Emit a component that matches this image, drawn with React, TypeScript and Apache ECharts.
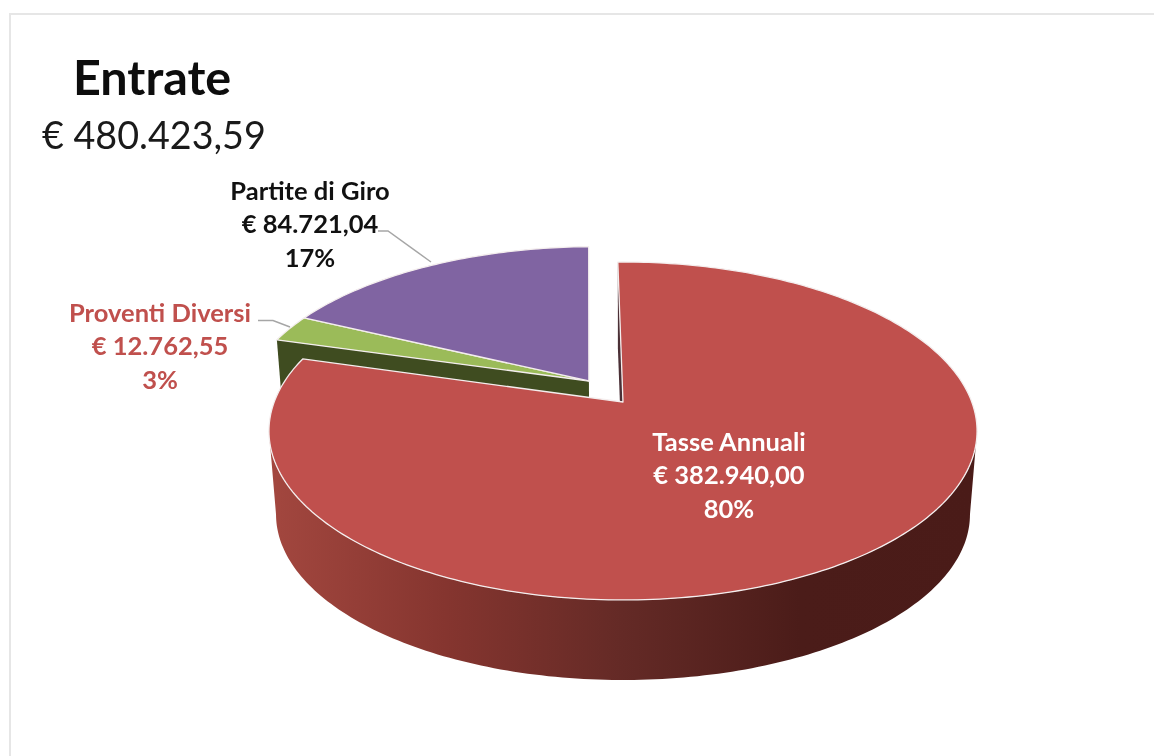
import React, { useEffect, useRef } from "react";
import * as echarts from "echarts";

const TITLE = "Entrate";
const TOTAL_LABEL = "€ 480.423,59";
const categories = ["Tasse Annuali", "Proventi Diversi", "Partite di Giro"];
const values = [382940.0, 12762.55, 84721.04];
const amountLabels = ["€ 382.940,00", "€ 12.762,55", "€ 84.721,04"];
const percentLabels = ["80%", "3%", "17%"];

const topColors = ["#c0504d", "#9bbb59", "#8064a2"];
const labelColors = ["#ffffff", "#c0504d", "#111111"];
const labelAnchors = [[729, 424], [160, 295], [310, 173]];
const leaders = [null, [[258, 320.5], [273, 320.5], [290, 327]], [[378, 231], [388, 231], [431, 262]]];
const explodeOffsets = [[0, 0], [-0.1, -0.131], [-0.1, -0.131]];

const CX = 623, CY = 402, A = 348.8, B = 164, K = 0.1716;
const DEPTH = 84, BOTTOM_SCALE = 0.98, START_DEG = -1;
const FONT = "Lato, Carlito, Calibri, sans-serif";

function project(u: number, v: number, lower: boolean) {
  const w = 1 / (1 - K * v);
  const s = lower ? BOTTOM_SCALE : 1;
  return [CX + s * A * u * w, CY + (lower ? DEPTH : 0) + s * B * v * w];
}
function rimPoint(deg: number, off: number[], lower: boolean) {
  const r = (deg * Math.PI) / 180;
  return project(Math.sin(r) + off[0], -Math.cos(r) + off[1], lower);
}
function arc(from: number, to: number, off: number[], lower: boolean) {
  const n = Math.max(2, Math.ceil(Math.abs(to - from)));
  const pts: number[][] = [];
  for (let i = 0; i <= n; i++) pts.push(rimPoint(from + ((to - from) * i) / n, off, lower));
  return pts;
}

const total = values.reduce((a, b) => a + b, 0);
function sweepOf(i: number) {
  const before = values.slice(0, i).reduce((a, b) => a + b, 0);
  return [START_DEG + (before / total) * 360, START_DEG + ((before + values[i]) / total) * 360];
}

function renderSlice(params: any, api: any) {
  const i = params.dataIndex;
  const [start, end] = sweepOf(i);
  void api.value(0);
  const off = explodeOffsets[i];
  const apexTop = project(off[0], off[1], false);
  const apexLow = project(off[0], off[1], true);
  const children: any[] = [];
  const base = i === 0 ? 20 : 2 + i * 2;

  if (i === 0) {
    const tangent = (Math.acos(-K) * 180) / Math.PI;
    const wall = [...arc(tangent, 360 - tangent, off, false), ...arc(360 - tangent, tangent, off, true)];
    children.push({
      type: "polygon",
      z2: base,
      shape: { points: wall },
      style: {
        fill: new echarts.graphic.LinearGradient(0, 0, 1, 0, [
          { offset: 0, color: "#a3473f" },
          { offset: 0.25, color: "#85352f" },
          { offset: 0.5, color: "#642a26" },
          { offset: 0.75, color: "#4b1c19" },
          { offset: 1, color: "#4a1b18" },
        ]),
      },
    });
    children.push({
      type: "polygon",
      z2: base + 1,
      shape: { points: [apexTop, rimPoint(start, off, false), rimPoint(start, off, true), apexLow] },
      style: { fill: "#4b3036" },
    });
  } else if (i === 1) {
    children.push({
      type: "polygon",
      z2: base,
      shape: { points: [apexTop, rimPoint(start, off, false), rimPoint(start, off, true), apexLow] },
      style: { fill: "#3f4c20" },
    });
  }
  children.push({
    type: "polygon",
    z2: base + 2,
    shape: { points: [apexTop, ...arc(start, end, off, false)] },
    style: { fill: topColors[i], stroke: "#f4eeee", lineWidth: 1.3, lineJoin: "round" },
  });
  const lead = leaders[i];
  if (lead) {
    children.push({
      type: "polyline",
      z2: 30,
      shape: { points: lead },
      style: { fill: "none", stroke: "#a6a6a6", lineWidth: 1.5 },
    });
  }
  children.push({
    type: "text",
    z2: 40,
    x: labelAnchors[i][0],
    y: labelAnchors[i][1],
    style: {
      text: [categories[i], amountLabels[i], percentLabels[i]].join("\n"),
      fill: labelColors[i],
      font: `bold 25.5px ${FONT}`,
      lineHeight: 33.5,
      align: "center",
      verticalAlign: "top",
    },
  });
  return { type: "group", children };
}

export default function App() {
  const ref = useRef<HTMLDivElement>(null);
  useEffect(() => {
    document.body.style.margin = "0";
    const chart = echarts.init(ref.current!, null, { renderer: "svg" });
    chart.setOption({
      animation: false,
      backgroundColor: "#ffffff",
      title: [
        {
          text: TITLE,
          left: 73,
          top: 51,
          padding: 0,
          textStyle: { fontFamily: FONT, fontWeight: "bold", fontSize: 48.5, color: "#0d0d0d" },
        },
        {
          text: TOTAL_LABEL,
          left: 42,
          top: 115,
          padding: 0,
          textStyle: { fontFamily: FONT, fontWeight: "normal", fontSize: 37.7, color: "#1a1a1a" },
        },
      ],
      graphic: [
        {
          type: "rect",
          silent: true,
          shape: { x: 10, y: 14, width: 1300, height: 900 },
          style: { fill: "none", stroke: "#e6e6e6", lineWidth: 2 },
        },
      ],
      series: [
        {
          type: "custom",
          coordinateSystem: "none",
          silent: true,
          renderItem: renderSlice,
          data: values.map((v) => [v]),
        },
      ],
    });
    return () => chart.dispose();
  }, []);
  return (
    <div
      ref={ref}
      style={{ position: "fixed", left: 0, top: 0, width: 1154, height: 756, filter: "blur(0.5px)" }}
    />
  );
}
